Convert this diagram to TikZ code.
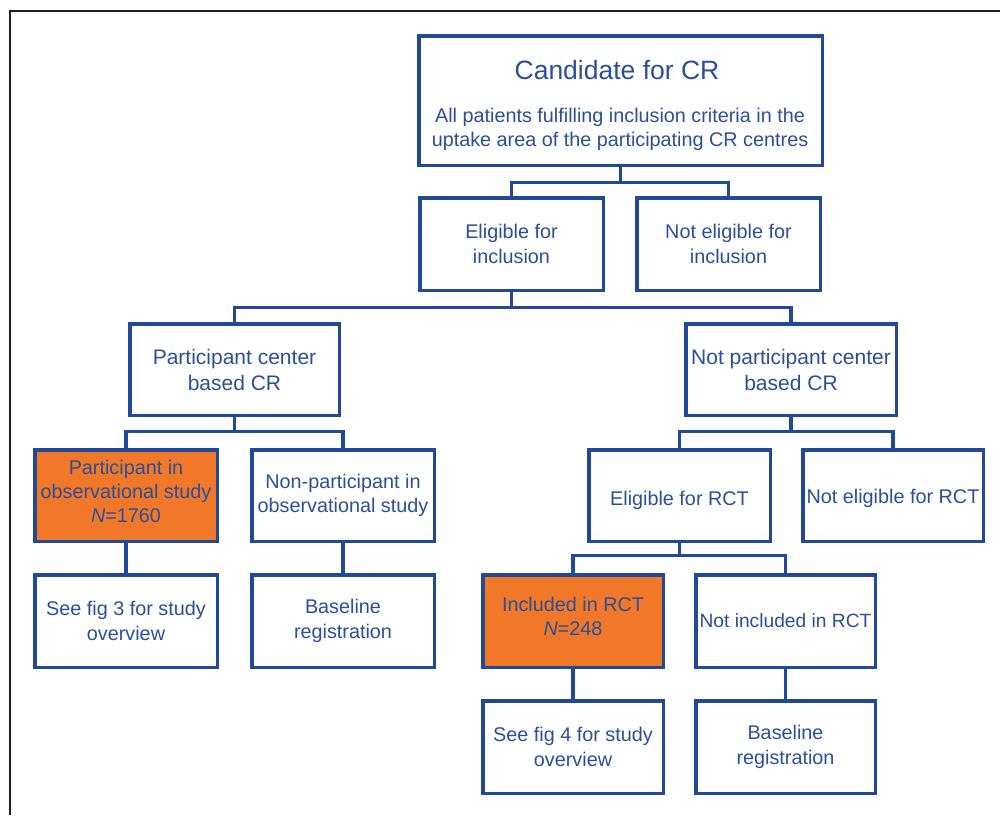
\documentclass[tikz,border=0pt]{standalone}
\usepackage{fontspec}
\setmainfont{Liberation Sans}
\definecolor{bblue}{HTML}{22489A}
\definecolor{tblue}{HTML}{2B4F99}
\definecolor{borange}{HTML}{F07828}
\definecolor{frame}{HTML}{231F20}
\begin{document}
\begin{tikzpicture}[x=1pt,y=-1pt,
  box/.style={draw=bblue,line width=3.5pt,fill=white,inner sep=0pt,outer sep=0pt,
    align=center,text=tblue,font=\fontsize{19.8}{25}\selectfont},
  obox/.style={box,fill=borange},
  link/.style={draw=bblue,line width=3.5pt}]
\useasboundingbox (0,0) rectangle (1000,815);
\draw[frame,line width=2pt] (1000,11) -- (10,11) -- (10,815);
% boxes
\node[box,minimum width=403.5pt,minimum height=129.5pt] (top) at (620.5,100.5) {};
\node[text=tblue,font=\fontsize{26.5}{30}\selectfont,inner sep=0pt] (toptitle) at (617,70) {Candidate for CR};
\node[text=tblue,font=\fontsize{19.8}{24}\selectfont,align=center,inner sep=0pt] (topsub) at (620,129) {All patients fulfilling inclusion criteria in the\\uptake area of the participating CR centres};
\node[box,minimum width=183.5pt,minimum height=92.5pt] (elig) at (511.5,244) {Eligible for\\inclusion};
\node[box,minimum width=183.5pt,minimum height=92.5pt] (notelig) at (728.5,244) {Not eligible for\\inclusion};
\node[box,minimum width=209.5pt,minimum height=91.5pt,font=\fontsize{21}{26}\selectfont] (pcb) at (234.5,369.5) {Participant center\\based CR};
\node[box,minimum width=210.5pt,minimum height=91.5pt,font=\fontsize{21}{26}\selectfont] (npcb) at (791,369.5) {Not participant center\\based CR};
\node[obox,minimum width=182.5pt,minimum height=91.5pt,font=\fontsize{19.8}{24}\selectfont] (part) at (126,495.5) {Participant in\\observational study\\\textit{N}=1760\rule[-8pt]{0pt}{1pt}};
\node[box,minimum width=182.5pt,minimum height=91.5pt,font=\fontsize{19.8}{24}\selectfont] (nonpart) at (343,495.5) {Non-participant in\\observational study};
\node[box,minimum width=181.5pt,minimum height=91.5pt] (eligrct) at (679.5,495.5) {\rule{0pt}{24pt}Eligible for RCT};
\node[box,minimum width=180.5pt,minimum height=91.5pt] (noteligrct) at (893,495.5) {\rule{0pt}{20pt}Not eligible for RCT};
\node[box,minimum width=182.5pt,minimum height=92.5pt] (fig3) at (126,621) {See fig 3 for study\\overview};
\node[box,minimum width=182.5pt,minimum height=92.5pt] (base1) at (343,621) {Baseline\\registration};
\node[obox,minimum width=180.5pt,minimum height=92.5pt,font=\fontsize{19.8}{24}\selectfont] (incl) at (573,621) {Included in RCT\\\textit{N}=248\rule[-10pt]{0pt}{1pt}};
\node[box,minimum width=179.5pt,minimum height=92.5pt,font=\fontsize{19.2}{24}\selectfont] (notincl) at (785.5,621) {Not included in RCT};
\node[box,minimum width=180.5pt,minimum height=92.5pt] (fig4) at (573,747) {See fig 4 for study\\overview};
\node[box,minimum width=179.5pt,minimum height=92.5pt] (base2) at (785.5,747) {Baseline\\registration};
% connectors
\draw[link] (top.south) -- ++(0,17) coordinate (j1);
\draw[link] (elig.north) |- (j1) -| (notelig.north);
\draw[link] (elig.south) -- ++(0,17) coordinate (j2);
\draw[link] (pcb.north) |- (j2) -| (npcb.north);
\draw[link] (pcb.south) -- ++(0,16) coordinate (j3);
\draw[link] (part.north) |- (j3) -| (nonpart.north);
\draw[link] (npcb.south) -- ++(0,16) coordinate (j4);
\draw[link] (eligrct.north) |- (j4) -| (noteligrct.north);
\draw[link] (eligrct.south) -- ++(0,14) coordinate (j5);
\draw[link] (incl.north) |- (j5) -| (notincl.north);
\draw[link] (part.south) -- (fig3.north);
\draw[link] (nonpart.south) -- (base1.north);
\draw[link] (incl.south) -- (fig4.north);
\draw[link] (notincl.south) -- (base2.north);
\end{tikzpicture}
\end{document}
